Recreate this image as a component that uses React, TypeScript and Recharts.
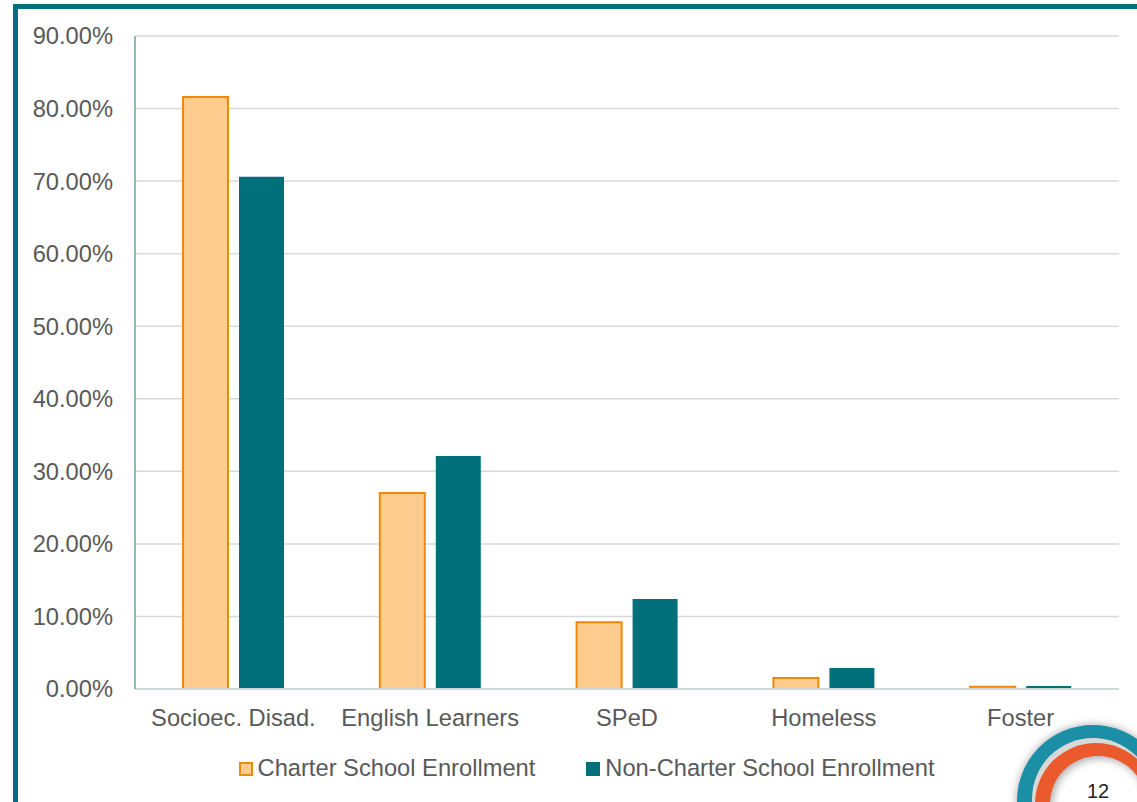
import React from "react";
import { BarChart, Bar, XAxis, YAxis, CartesianGrid, Legend } from "recharts";

const categories = ["Socioec. Disad.", "English Learners", "SPeD", "Homeless", "Foster"];
const charterValues = [81.6, 27.0, 9.2, 1.5, 0.3];
const nonCharterValues = [70.6, 32.1, 12.4, 2.9, 0.4];
const yTicks = [0, 10, 20, 30, 40, 50, 60, 70, 80, 90];

const data = categories.map((name, i) => ({
  name,
  charter: charterValues[i],
  nonCharter: nonCharterValues[i],
}));

const TEAL = "#02707a";
const ORANGE = "#f0880a";
const PEACH = "#fecc8f";
const TEXT = "#595959";
const FONT = "'Liberation Sans', Arial, sans-serif";

function LegendContent() {
  const item = (label: string, fill: string, stroke: string) => (
    <div style={{ display: "flex", alignItems: "center" }}>
      <div
        style={{
          width: 10,
          height: 10,
          background: fill,
          border: `2px solid ${stroke}`,
          marginRight: 5,
        }}
      />
      <span>{label}</span>
    </div>
  );
  return (
    <div
      style={{
        display: "flex",
        justifyContent: "center",
        gap: 51,
        fontFamily: FONT,
        fontSize: 23.7,
        color: TEXT,
        paddingLeft: 36,
      }}
    >
      {item("Charter School Enrollment", PEACH, ORANGE)}
      {item("Non-Charter School Enrollment", TEAL, TEAL)}
    </div>
  );
}

function PageBadge() {
  return (
    <div style={{ position: "absolute", left: 1017, top: 725, width: 152, height: 152 }}>
      <div
        style={{
          position: "absolute",
          inset: 0,
          borderRadius: "50%",
          background: "#1a8fa6",
          boxShadow: "0 0 8px rgba(0,0,0,0.35)",
        }}
      />
      <div
        style={{
          position: "absolute",
          left: 15,
          top: 13,
          width: 122,
          height: 122,
          borderRadius: "50%",
          background: "#d8d8d8",
        }}
      />
      <div
        style={{
          position: "absolute",
          left: 18,
          top: 18,
          width: 122,
          height: 122,
          borderRadius: "50%",
          background: "#ea5a2c",
        }}
      />
      <div
        style={{
          position: "absolute",
          left: 33,
          top: 31,
          width: 96,
          height: 96,
          borderRadius: "50%",
          background: "#ffffff",
          boxShadow: "inset 2px 2px 8px rgba(0,0,0,0.35)",
        }}
      />
      <div
        style={{
          position: "absolute",
          left: 33,
          top: 56,
          width: 96,
          textAlign: "center",
          fontFamily: FONT,
          fontSize: 20,
          lineHeight: "20px",
          color: "#222",
        }}
      >
        12
      </div>
    </div>
  );
}

export default function App() {
  return (
    <div
      style={{
        position: "absolute",
        left: 0,
        top: 0,
        width: 1137,
        height: 802,
        overflow: "hidden",
        background: "#ffffff",
      }}
    >
      <div
        style={{
          position: "absolute",
          left: 13,
          top: 4,
          width: 1200,
          height: 900,
          borderLeft: `5px solid ${TEAL}`,
          borderTop: `5px solid ${TEAL}`,
        }}
      />
      <div style={{ position: "absolute", left: 0, top: 0 }}>
        <BarChart
          width={1137}
          height={802}
          data={data}
          margin={{ top: 36, right: 18, left: 0, bottom: 73 }}
          barSize={45}
          barGap={11}
        >
          <CartesianGrid vertical={false} stroke="#d9d9d9" strokeWidth={1.5} />
          <XAxis
            dataKey="name"
            height={40}
            tickLine={false}
            tickSize={0}
            tickMargin={20}
            axisLine={{ stroke: "#cfd6d8", strokeWidth: 2 }}
            tick={{ fontFamily: FONT, fontSize: 23.7, fill: TEXT }}
            interval={0}
          />
          <XAxis
            xAxisId="top"
            dataKey="name"
            orientation="top"
            height={0}
            tick={false}
            tickLine={false}
            axisLine={{ stroke: "#3a8e98", strokeWidth: 2 }}
          />
          <YAxis
            width={135}
            domain={[0, 90]}
            ticks={yTicks}
            tickLine={false}
            tickSize={0}
            tickMargin={22}
            axisLine={{ stroke: "#5fa8b0", strokeWidth: 1.5 }}
            tick={{ fontFamily: FONT, fontSize: 23.7, fill: TEXT }}
            tickFormatter={(v: number) => `${v.toFixed(2)}%`}
          />
          <YAxis
            yAxisId="right"
            orientation="right"
            width={0}
            domain={[0, 90]}
            tick={false}
            tickLine={false}
            axisLine={{ stroke: TEAL, strokeWidth: 2 }}
          />
          <Legend
            verticalAlign="middle"
            align="center"
            layout="horizontal"
            wrapperStyle={{ position: "absolute", top: 755, left: 0, width: 1137 }}
            content={() => <LegendContent />}
          />
          <Bar
            dataKey="charter"
            name="Charter School Enrollment"
            fill={PEACH}
            stroke={ORANGE}
            strokeWidth={2}
            isAnimationActive={false}
          />
          <Bar
            dataKey="nonCharter"
            name="Non-Charter School Enrollment"
            fill={TEAL}
            isAnimationActive={false}
          />
        </BarChart>
      </div>
      <PageBadge />
    </div>
  );
}
